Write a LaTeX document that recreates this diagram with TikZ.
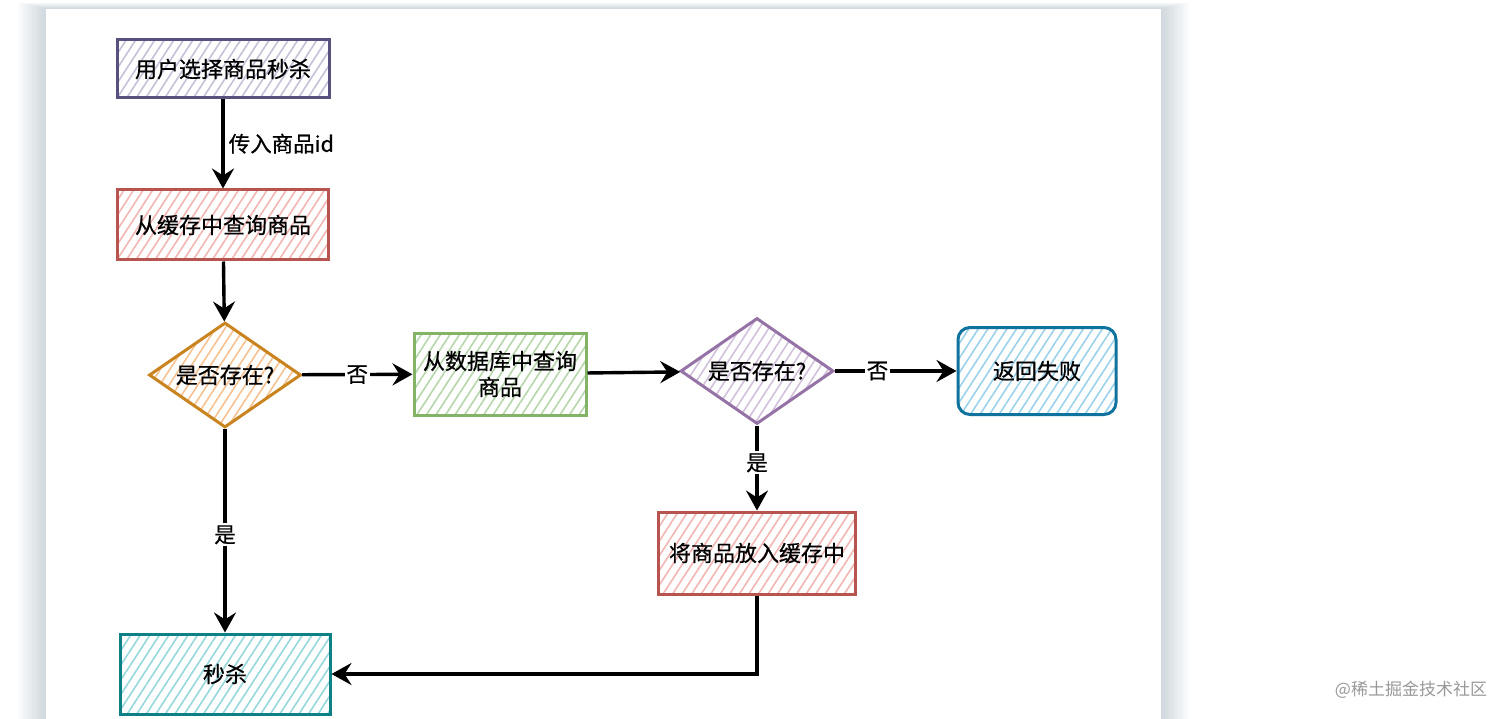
\documentclass[tikz,border=0pt]{standalone}
\usepackage{fontspec}
\setmainfont{Noto Sans CJK SC}[FakeBold=0.6]
\newfontfamily\markfont{Noto Sans CJK SC}
\usetikzlibrary{shapes.geometric,arrows.meta,patterns.meta,positioning}

\definecolor{cardshadow}{RGB}{140,162,176}
\definecolor{lnPurple}{HTML}{56517E}  \definecolor{htPurple}{HTML}{C4C2D8}
\definecolor{lnRed}{HTML}{B85450}     \definecolor{htRed}{HTML}{F2B6B3}
\definecolor{lnOrange}{HTML}{C98420}  \definecolor{htOrange}{HTML}{F7C291}
\definecolor{lnGreen}{HTML}{82B366}   \definecolor{htGreen}{HTML}{B6D7AB}
\definecolor{lnLilac}{HTML}{9673A6}   \definecolor{htLilac}{HTML}{D2C1DD}
\definecolor{lnBlue}{HTML}{10739E}    \definecolor{htBlue}{HTML}{9CD2EC}
\definecolor{lnTeal}{HTML}{0E8088}    \definecolor{htTeal}{HTML}{96D8DC}

\begin{document}
\begin{tikzpicture}[x=1pt,y=-1pt]
			\tikzstyle{Box} 	= [rectangle, line width=3pt, inner sep=0pt, align=center, font=\fontsize{22}{26}\selectfont]
			\tikzstyle{Decision}	= [diamond, aspect=1.45, line width=3pt, inner sep=0pt, font=\fontsize{22}{26}\selectfont]
			\tikzstyle{Flow}	= [line width=3.4pt, -{Stealth[length=20pt,width=22pt,inset=7pt]}]
			\tikzstyle{Label}	= [fill=white, inner sep=2pt, font=\fontsize{21.5}{25}\selectfont]
			\tikzstyle{Hatch}	= [pattern={Lines[angle=57,distance=8pt,line width=1.6pt]}]
			
			\useasboundingbox (0,0) rectangle (1512,719);
			\fill[white] (0,0) rectangle (1512,719);
			\foreach \s in {1,...,12}
				\fill[cardshadow, opacity=0.035] (46-2.3*\s, 9-0.5*\s) rectangle (1161+2.3*\s, 740);
			\fill[white] (46,9) rectangle (1161,740);
			
			\node (b1) at (223, 69) [Box][Hatch, draw=lnPurple, pattern color=htPurple, minimum width=212pt, minimum height=58pt] {用户选择商品秒杀};
			\node (b2) at (223, 225) [Box][Hatch, draw=lnRed, pattern color=htRed, minimum width=211pt, minimum height=70pt] {从缓存中查询商品};
			\node (d1) at (225, 375) [Decision][Hatch, draw=lnOrange, pattern color=htOrange, minimum width=152pt, minimum height=105pt] {是否存在?};
			\node (b3) at (500, 374) [Box][Hatch, draw=lnGreen, pattern color=htGreen, minimum width=172pt, minimum height=82pt] {从数据库中查询\\商品};
			\node (d2) at (757, 371) [Decision][Hatch, draw=lnLilac, pattern color=htLilac, minimum width=153pt, minimum height=106pt] {是否存在?};
			\node (b4) at (1037, 371) [Box][Hatch, draw=lnBlue, pattern color=htBlue, rounded corners=12pt, minimum width=158pt, minimum height=87pt] {返回失败};
			\node (b5) at (757, 553) [Box][Hatch, draw=lnRed, pattern color=htRed, minimum width=197pt, minimum height=82pt] {将商品放入缓存中};
			\node (b6) at (225, 674) [Box][Hatch, draw=lnTeal, pattern color=htTeal, minimum width=210pt, minimum height=80pt] {秒杀};
			
			\draw [Flow] (b1) to node [Label, right, fill=none, xshift=2pt] {传入商品id} (b2);
			\draw [Flow] (b2) to (d1);
			\draw [Flow] (d1) to node [Label] {否} (b3);
			\draw [Flow] (b3) to (d2);
			\draw [Flow] (d2) to node [Label, pos=0.35] {否} (b4);
			\draw [Flow] (d2) to node [Label, pos=0.44] {是} (b5);
			\draw [Flow] (d1) to node [Label, pos=0.52] {是} (b6);
			\draw [Flow] (b5.south) |- (b6.east);
			
			\node (wm) at (1411, 690) [text=black!40, font=\markfont\fontsize{17}{20}\selectfont] {@稀土掘金技术社区};
		\end{tikzpicture}
\end{document}
